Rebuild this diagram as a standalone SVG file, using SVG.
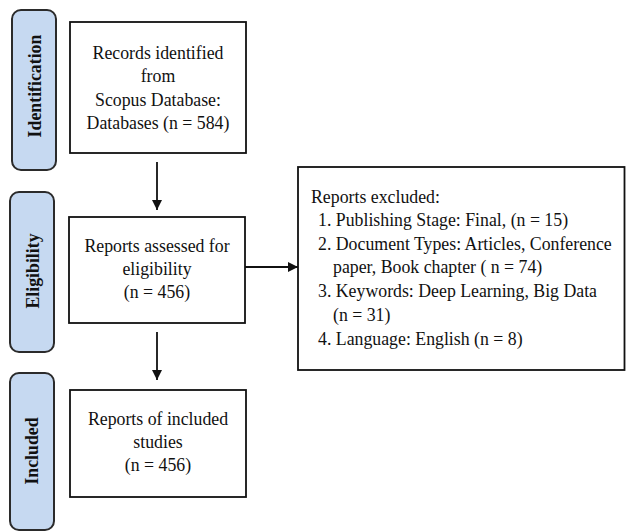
<svg xmlns="http://www.w3.org/2000/svg" width="626" height="532" viewBox="0 0 626 532">
<style>
.tab{fill:#c6d9f1;stroke:#2b2b2b;stroke-width:2}
.box{fill:#fff;stroke:#111;stroke-width:1.8}
.t{font-family:"Liberation Serif","Times New Roman",serif;font-size:17.8px;fill:#111}
.c{text-anchor:middle}
.tb{font-family:"Liberation Serif","Times New Roman",serif;font-size:17.8px;font-weight:bold;fill:#111;text-anchor:middle}
.ln{stroke:#111;stroke-width:1.8;fill:none}
</style>
<defs>
<marker id="ah" viewBox="0 0 10 10" refX="10" refY="5" markerWidth="10" markerHeight="10" markerUnits="userSpaceOnUse" orient="auto">
<path d="M0,0 L10,5 L0,10 z" fill="#111"/>
</marker>
</defs>
<rect width="626" height="532" fill="#fff"/>
<g id="tab-identification">
<rect class="tab" x="12" y="10" width="44" height="160" rx="9"/>
<text class="tb" transform="translate(41,86) rotate(-90)">Identification</text>
</g>
<g id="tab-eligibility">
<rect class="tab" x="10" y="192" width="44" height="160" rx="9"/>
<text class="tb" transform="translate(39,271) rotate(-90)">Eligibility</text>
</g>
<g id="tab-included">
<rect class="tab" x="10" y="373" width="44" height="157" rx="9"/>
<text class="tb" transform="translate(38,451) rotate(-90)">Included</text>
</g>
<g id="records-identified">
<rect class="box" x="70" y="22" width="176" height="131"/>
<text class="t c" x="158" y="59">Records identified</text>
<text class="t c" x="158" y="82">from</text>
<text class="t c" x="158" y="105.5">Scopus Database:</text>
<text class="t c" x="158" y="128.5">Databases (n = 584)</text>
</g>
<g id="reports-assessed">
<rect class="box" x="69" y="217" width="176" height="106"/>
<text class="t c" x="157" y="252">Reports assessed for</text>
<text class="t c" x="157" y="275">eligibility</text>
<text class="t c" x="157" y="298">(n = 456)</text>
</g>
<g id="reports-included">
<rect class="box" x="70" y="390" width="176" height="107"/>
<text class="t c" x="158" y="425">Reports of included</text>
<text class="t c" x="158" y="448">studies</text>
<text class="t c" x="158" y="471">(n = 456)</text>
</g>
<g id="reports-excluded">
<rect class="box" x="298" y="167" width="326.5" height="203"/>
<text class="t" x="311" y="203">Reports excluded:</text>
<text class="t" x="318" y="226">1. Publishing Stage: Final, (n = 15)</text>
<text class="t" x="318" y="249.5">2. Document Types: Articles, Conference</text>
<text class="t" x="333" y="273">paper, Book chapter ( n = 74)</text>
<text class="t" x="318" y="297">3. Keywords: Deep Learning, Big Data</text>
<text class="t" x="333" y="320.5">(n = 31)</text>
<text class="t" x="318" y="344.5">4. Language: English (n = 8)</text>
</g>
<g id="connectors">
<line class="ln" x1="157" y1="162" x2="157" y2="210" marker-end="url(#ah)"/>
<line class="ln" x1="245" y1="267" x2="298" y2="267" marker-end="url(#ah)"/>
<line class="ln" x1="157" y1="332" x2="157" y2="380" marker-end="url(#ah)"/>
</g>
</svg>
